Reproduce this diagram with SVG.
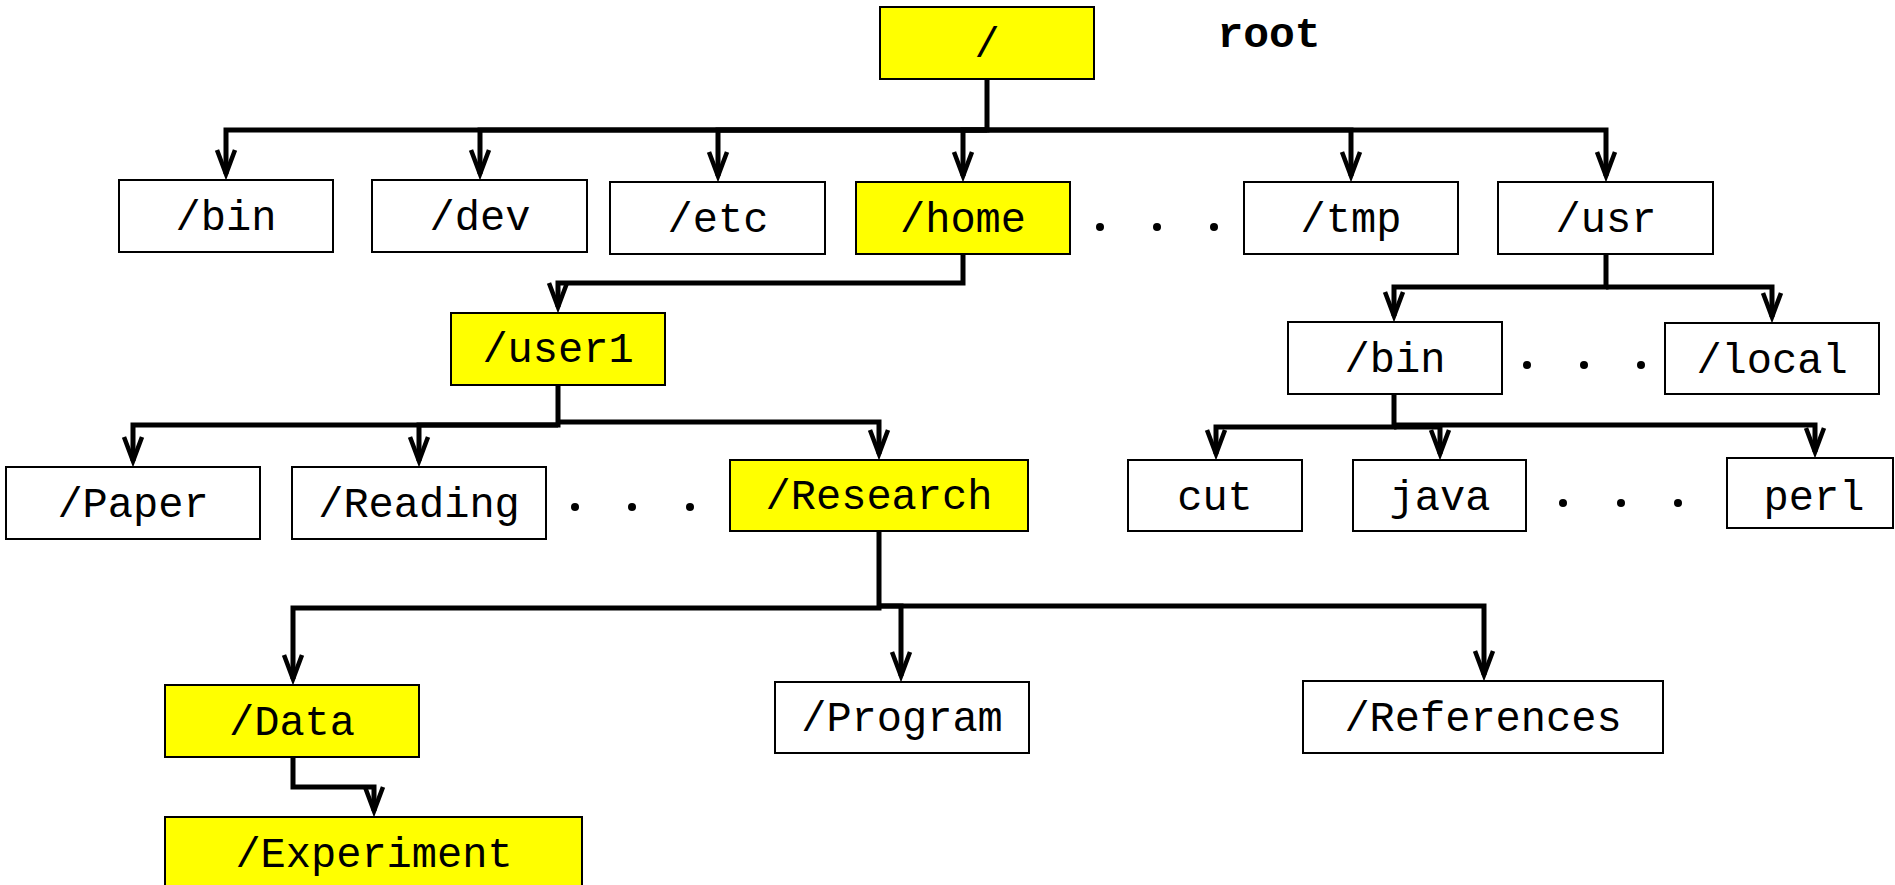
<svg xmlns="http://www.w3.org/2000/svg" width="1895" height="885" viewBox="0 0 1895 885">
  <style>
    .box { fill: #ffffff; stroke: #000000; stroke-width: 2; }
    .hl { fill: #ffff00; }
    .lbl { font-family: "Liberation Mono", "Courier New", monospace; font-size: 42px; fill: #000000; text-anchor: middle; }
    .title { font-family: "Liberation Mono", "Courier New", monospace; font-size: 43px; font-weight: bold; fill: #000000; text-anchor: middle; }
    .link { fill: none; stroke: #000000; stroke-width: 5; stroke-linejoin: miter; marker-end: url(#arrow); }
    .dot { fill: #000000; }
  </style>
  <defs>
    <marker id="arrow" markerUnits="userSpaceOnUse" viewBox="-32 -16 44 32" refX="0" refY="0" markerWidth="44" markerHeight="32" orient="auto">
      <path d="M-24,-9 L0,0 L-24,9" fill="none" stroke="#000000" stroke-width="4.5"/>
    </marker>
  </defs>
  <rect width="1895" height="885" fill="#ffffff"/>

  <!-- connectors -->
  <g id="connectors">
    <!-- / -->
    <path class="link" d="M987,79 V130 H226 V174"/>
    <path class="link" d="M987,130 H480 V174"/>
    <path class="link" d="M987,130 H718 V176"/>
    <path class="link" d="M987,130 H963 V176"/>
    <path class="link" d="M987,130 H1351 V176"/>
    <path class="link" d="M987,130 H1606 V176"/>
    <!-- /home -->
    <path class="link" d="M963,254 V283 H558 V307"/>
    <!-- /user1 -->
    <path class="link" d="M558,385 V425 H133 V461"/>
    <path class="link" d="M558,425 H419 V461"/>
    <path class="link" d="M558,422 H879 V454"/>
    <!-- /Research -->
    <path class="link" d="M879,531 V608 H293 V679"/>
    <path class="link" d="M879,606 H901 V676"/>
    <path class="link" d="M879,606 H1484 V675"/>
    <!-- /Data -->
    <path class="link" d="M293,757 V787 H374 V811"/>
    <!-- /usr -->
    <path class="link" d="M1606,254 V287 H1394 V316"/>
    <path class="link" d="M1606,287 H1772 V317"/>
    <!-- /usr/bin -->
    <path class="link" d="M1394,394 V427 H1216 V454"/>
    <path class="link" d="M1394,427 H1440 V454"/>
    <path class="link" d="M1394,425 H1815 V452"/>
  </g>

  <!-- ellipses for omitted entries -->
  <g id="ellipses">
    <circle class="dot" cx="1100" cy="227" r="4"/>
    <circle class="dot" cx="1157" cy="227" r="4"/>
    <circle class="dot" cx="1214" cy="227" r="4"/>
    <circle class="dot" cx="575" cy="507" r="4"/>
    <circle class="dot" cx="632" cy="507" r="4"/>
    <circle class="dot" cx="690" cy="507" r="4"/>
    <circle class="dot" cx="1527" cy="365" r="4"/>
    <circle class="dot" cx="1584" cy="365" r="4"/>
    <circle class="dot" cx="1641" cy="365" r="4"/>
    <circle class="dot" cx="1563" cy="503" r="4"/>
    <circle class="dot" cx="1621" cy="503" r="4"/>
    <circle class="dot" cx="1678" cy="503" r="4"/>
  </g>

  <text class="title" x="1269" y="47">root</text>

  <g id="n-root"><rect class="box hl" x="880" y="7" width="214" height="72"/><text class="lbl" x="987" y="57">/</text></g>

  <g id="n-bin"><rect class="box" x="119" y="180" width="214" height="72"/><text class="lbl" x="226" y="230">/bin</text></g>
  <g id="n-dev"><rect class="box" x="372" y="180" width="215" height="72"/><text class="lbl" x="480" y="230">/dev</text></g>
  <g id="n-etc"><rect class="box" x="610" y="182" width="215" height="72"/><text class="lbl" x="718" y="232">/etc</text></g>
  <g id="n-home"><rect class="box hl" x="856" y="182" width="214" height="72"/><text class="lbl" x="963" y="232">/home</text></g>
  <g id="n-tmp"><rect class="box" x="1244" y="182" width="214" height="72"/><text class="lbl" x="1351" y="232">/tmp</text></g>
  <g id="n-usr"><rect class="box" x="1498" y="182" width="215" height="72"/><text class="lbl" x="1606" y="232">/usr</text></g>

  <g id="n-user1"><rect class="box hl" x="451" y="313" width="214" height="72"/><text class="lbl" x="558" y="362">/user1</text></g>

  <g id="n-paper"><rect class="box" x="6" y="467" width="254" height="72"/><text class="lbl" x="133" y="517">/Paper</text></g>
  <g id="n-reading"><rect class="box" x="292" y="467" width="254" height="72"/><text class="lbl" x="419" y="517">/Reading</text></g>
  <g id="n-research"><rect class="box hl" x="730" y="460" width="298" height="71"/><text class="lbl" x="879" y="509">/Research</text></g>

  <g id="n-data"><rect class="box hl" x="165" y="685" width="254" height="72"/><text class="lbl" x="292" y="735">/Data</text></g>
  <g id="n-program"><rect class="box" x="775" y="682" width="254" height="71"/><text class="lbl" x="902" y="731">/Program</text></g>
  <g id="n-references"><rect class="box" x="1303" y="681" width="360" height="72"/><text class="lbl" x="1483" y="731">/References</text></g>

  <g id="n-experiment"><rect class="box hl" x="165" y="817" width="417" height="80"/><text class="lbl" x="374" y="867">/Experiment</text></g>

  <g id="n-usr-bin"><rect class="box" x="1288" y="322" width="214" height="72"/><text class="lbl" x="1395" y="372">/bin</text></g>
  <g id="n-local"><rect class="box" x="1665" y="323" width="214" height="71"/><text class="lbl" x="1772" y="373">/local</text></g>

  <g id="n-cut"><rect class="box" x="1128" y="460" width="174" height="71"/><text class="lbl" x="1215" y="510">cut</text></g>
  <g id="n-java"><rect class="box" x="1353" y="460" width="173" height="71"/><text class="lbl" x="1440" y="510">java</text></g>
  <g id="n-perl"><rect class="box" x="1727" y="458" width="166" height="70"/><text class="lbl" x="1814" y="510">perl</text></g>
</svg>
